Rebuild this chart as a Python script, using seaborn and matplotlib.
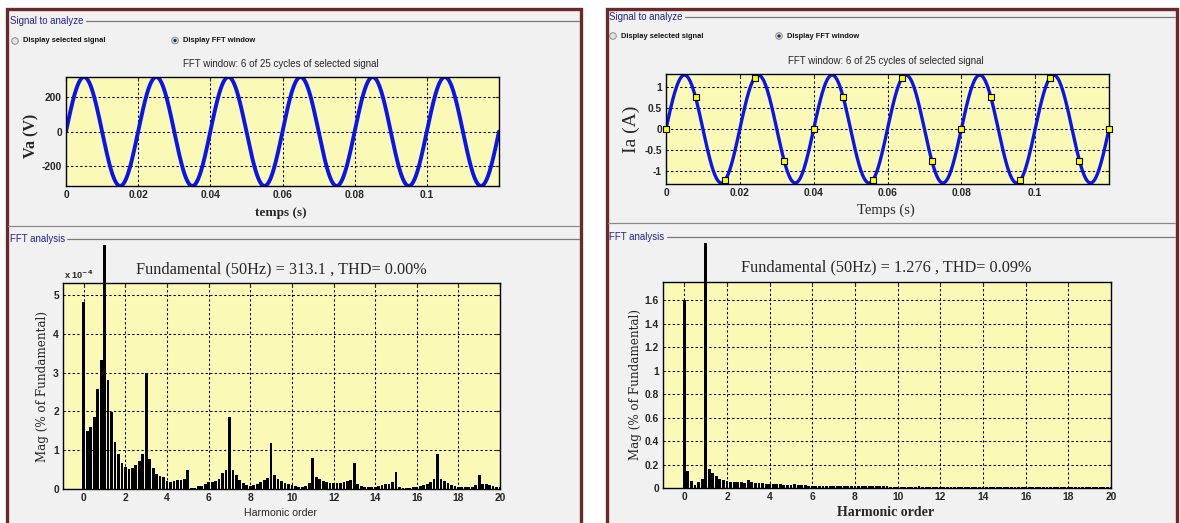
import numpy as np
import pandas as pd
import matplotlib
matplotlib.use("Agg")
import matplotlib.pyplot as plt
from matplotlib.patches import Rectangle, Circle
from matplotlib.transforms import Bbox, TransformedBbox
import seaborn as sns

# ---------------------------------------------------------------- data
# Measured phase signals (fundamental amplitude and frequency)
va_amplitude = 313.1      # V
ia_amplitude = 1.276      # A
f_fund = 50.0             # Hz
window_cycles = 6
total_cycles = 25

# Harmonic spectrum, bins every 1/6 harmonic from 0 to 20
# Voltage spectrum in units of 1e-4 % of fundamental (bin 6 = fundamental = 100 %)
va_spectrum = [
    4.81, 1.49, 1.61, 1.86, 2.57, 3.32, 1.0e6, 2.81, 1.99, 1.22, 0.89, 0.68,
    0.57, 0.51, 0.54, 0.62, 0.72, 0.89, 2.99, 0.77, 0.55, 0.38, 0.34, 0.30,
    0.20, 0.18, 0.20, 0.22, 0.24, 0.26, 0.48, 0.03, 0.03, 0.09, 0.07, 0.12,
    0.18, 0.18, 0.21, 0.27, 0.40, 0.50, 1.86, 0.49, 0.35, 0.22, 0.15, 0.10,
    0.09, 0.10, 0.13, 0.18, 0.23, 0.29, 1.18, 0.35, 0.27, 0.20, 0.15, 0.12,
    0.10, 0.08, 0.06, 0.05, 0.07, 0.15, 0.80, 0.30, 0.25, 0.20, 0.17, 0.16,
    0.16, 0.16, 0.16, 0.18, 0.20, 0.24, 0.67, 0.12, 0.08, 0.06, 0.06, 0.06,
    0.06, 0.07, 0.10, 0.12, 0.14, 0.18, 0.43, 0.06, 0.03, 0.02, 0.02, 0.04,
    0.05, 0.07, 0.10, 0.12, 0.18, 0.25, 0.90, 0.25, 0.20, 0.15, 0.10, 0.08,
    0.06, 0.05, 0.06, 0.06, 0.05, 0.10, 0.35, 0.14, 0.12, 0.10, 0.08, 0.06,
    0.06,
]
# Current spectrum in % of fundamental (bin 6 = fundamental = 100 %)
ia_spectrum = [
    1.600, 0.148, 0.057, 0.023, 0.048, 0.080, 100.0, 0.165, 0.125, 0.100, 0.080, 0.065,
    0.060, 0.055, 0.048, 0.048, 0.048, 0.045, 0.070, 0.050, 0.043, 0.040, 0.040, 0.037,
    0.033, 0.030, 0.030, 0.030, 0.028, 0.026, 0.028, 0.030, 0.027, 0.024, 0.022, 0.020,
    0.020, 0.019, 0.018, 0.018, 0.017, 0.017, 0.016, 0.016, 0.015, 0.015, 0.015, 0.014,
    0.015, 0.014, 0.014, 0.013, 0.013, 0.014, 0.015, 0.014, 0.013, 0.013, 0.012, 0.012,
    0.012, 0.010, 0.010, 0.011, 0.012, 0.012, 0.014, 0.012, 0.010, 0.008, 0.007, 0.007,
    0.006, 0.006, 0.006, 0.007, 0.007, 0.008, 0.010, 0.007, 0.006, 0.005, 0.005, 0.005,
    0.006, 0.006, 0.006, 0.006, 0.006, 0.006, 0.007, 0.005, 0.005, 0.005, 0.005, 0.005,
    0.005, 0.006, 0.006, 0.006, 0.006, 0.006, 0.007, 0.006, 0.005, 0.005, 0.005, 0.005,
    0.005, 0.005, 0.005, 0.005, 0.005, 0.005, 0.006, 0.005, 0.005, 0.005, 0.005, 0.005,
    0.005,
]
harmonic_order = np.arange(len(va_spectrum)) / window_cycles

time_ticks = [0, 0.02, 0.04, 0.06, 0.08, 0.1]
time_labels = ["0", "0.02", "0.04", "0.06", "0.08", "0.1"]
va_ticks = [-200, 0, 200]
ia_ticks = [-1, -0.5, 0, 0.5, 1]
ia_tick_labels = ["-1", "-0.5", "0", "0.5", "1"]
harm_ticks = list(range(0, 21, 2))
va_mag_ticks = [0, 1, 2, 3, 4, 5]
ia_mag_ticks = [0, 0.2, 0.4, 0.6, 0.8, 1.0, 1.2, 1.4, 1.6]
ia_mag_labels = ["0", "0.2", "0.4", "0.6", "0.8", "1", "1.2", "1.4", "1.6"]

va_thd = 0.00
ia_thd = 0.09

# waveforms over the FFT window
t_end = window_cycles / f_fund
t = np.linspace(0, t_end, 1200)
va = va_amplitude * np.sin(2 * np.pi * f_fund * t)
ia = ia_amplitude * np.sin(2 * np.pi * f_fund * t)
t_mark = np.arange(0, t_end + 1e-9, 0.008)
ia_mark = ia_amplitude * np.sin(2 * np.pi * f_fund * t_mark)

# ---------------------------------------------------------------- style
sns.set_style("white")
plt.rcParams["font.family"] = ["DejaVu Sans"]
plt.rcParams["axes.unicode_minus"] = False

W, H = 1180, 523
fig = plt.figure(figsize=(W / 100, H / 100), dpi=100, facecolor="white")

AX_BG = "#fbf9b6"
BLUE = "#0a14f0"
SERIF = "Liberation Serif"
SANS = "Liberation Sans"


def add_ax(x0, y0, x1, y1):
    return fig.add_axes([x0 / W, 1 - y1 / H, (x1 - x0) / W, (y1 - y0) / H])


# window frame / panel decoration in pixel coordinates
ov = fig.add_axes([0, 0, 1, 1], zorder=-1)
ov.set_xlim(0, W)
ov.set_ylim(H, 0)
ov.axis("off")

for px0, px1 in [(7, 581), (607, 1177)]:
    ov.add_patch(Rectangle((px0, 8.5), px1 - px0, 530, facecolor="#f1f1f1",
                           edgecolor="#6a2828", lw=2.4))

GROUP_BLUE = "#22228e"


def group_label(x, y, text, x_end_text, x_end):
    ov.text(x, y, text, color=GROUP_BLUE, fontsize=6.9, family=SANS,
            ha="left", va="center")
    ov.plot([x_end_text, x_end], [y, y], color="#7a7a7a", lw=0.9)


def radio(x, y, text, selected):
    ov.add_patch(Circle((x, y), 3.3, facecolor="#e4e4e4", edgecolor="#8a8a8a", lw=0.7))
    if selected:
        ov.add_patch(Circle((x, y), 1.7, facecolor="#203850", edgecolor="none"))
    ov.text(x + 8, y, text, fontsize=5.4, fontweight="bold", family=SANS,
            ha="left", va="center", color="#111111")


# left panel
group_label(10, 20.5, "Signal to analyze", 86, 579)
radio(15, 41, "Display selected signal", False)
radio(175, 40.5, "Display FFT window", True)
ov.plot([8, 579], [226, 226], color="#8a8a8a", lw=0.9)
group_label(10, 238.5, "FFT analysis", 67, 579)

# right panel
group_label(609, 17, "Signal to analyze", 685, 1175)
radio(613, 36, "Display selected signal", False)
radio(779, 36, "Display FFT window", True)
ov.plot([608, 1175], [223, 223], color="#8a8a8a", lw=0.9)
group_label(609, 236.5, "FFT analysis", 667, 1175)

window_title = f"FFT window: {window_cycles} of {total_cycles} cycles of selected signal"
ov.text(281, 64, window_title, fontsize=7.0, family=SANS, ha="center", va="center")
ov.text(886, 61.5, window_title, fontsize=7.0, family=SANS, ha="center", va="center")

ov.text(281, 269, f"Fundamental ({f_fund:.0f}Hz) = {va_amplitude:.1f} , THD= {va_thd:.2f}%",
        fontsize=11.7, family=SERIF, ha="center", va="center")
ov.text(886, 267, f"Fundamental ({f_fund:.0f}Hz) = {ia_amplitude:.3f} , THD= {ia_thd:.2f}%",
        fontsize=11.7, family=SERIF, ha="center", va="center")
ov.text(64, 275, r"x 10$^{\mathbf{-4}}$", fontsize=6.6, fontweight="bold", family=SANS,
        ha="left", va="center")


def style_axes(ax, xlabel_xy, ylabel_xy, box):
    x0, y0, x1, y1 = box
    ax.set_facecolor(AX_BG)
    for s in ax.spines.values():
        s.set_color("black")
        s.set_linewidth(1.0)
        s.set_visible(True)
    ax.grid(True, color="black", linestyle=(0, (2.2, 2.2)), linewidth=0.75)
    ax.set_axisbelow(True)
    ax.tick_params(direction="in", length=3, width=0.8, top=True, right=True,
                   labelsize=7.4, pad=3)
    for lab in ax.get_xticklabels() + ax.get_yticklabels():
        lab.set_fontweight("bold")
        lab.set_family(SANS)
    ax.xaxis.set_label_coords((xlabel_xy[0] - x0) / (x1 - x0), (y1 - xlabel_xy[1]) / (y1 - y0))
    ax.yaxis.set_label_coords((ylabel_xy[0] - x0) / (x1 - x0), (y1 - ylabel_xy[1]) / (y1 - y0))
    ax.xaxis.label.set_va("center")
    ax.yaxis.label.set_va("center")


# ---------------------------------------------------------------- top left: Va
box = (66, 77, 499, 186)
ax = add_ax(*box)
sns.lineplot(x=t, y=va, ax=ax, color=BLUE, linewidth=2.8)
ax.set_xlim(0, t_end)
ax.set_ylim(-va_amplitude, va_amplitude)
ax.set_xticks(time_ticks, time_labels)
ax.set_yticks(va_ticks)
ax.set_xlabel("temps (s)", fontsize=9.5, family=SERIF, fontweight="bold")
ax.set_ylabel("Va (V)", fontsize=11.5, family=SERIF, fontweight="bold")
style_axes(ax, (281, 213), (31, 136), box)

# ---------------------------------------------------------------- top right: Ia
box = (666, 74, 1109, 184)
ax = add_ax(*box)
sns.lineplot(x=t, y=ia, ax=ax, color=BLUE, linewidth=2.4)
sns.scatterplot(x=t_mark, y=ia_mark, ax=ax, marker="s", color="#ffff00",
                edgecolor="black", linewidth=0.8, s=24, zorder=4, clip_on=False)
ax.set_xlim(0, t_end)
ax.set_ylim(-1.3, 1.3)
ax.set_xticks(time_ticks, time_labels)
ax.set_yticks(ia_ticks, ia_tick_labels)
ax.set_xlabel("Temps (s)", fontsize=10.5, family=SERIF)
ax.set_ylabel("Ia (A)", fontsize=14, family=SERIF)
style_axes(ax, (886, 210), (631, 129), box)


# ---------------------------------------------------------------- spectra
def spectrum(ax, values, top_frac):
    df = pd.DataFrame({"h": harmonic_order, "mag": values})
    sns.barplot(data=df, x="h", y="mag", ax=ax, native_scale=True, color="black",
                saturation=1, width=0.8, errorbar=None, edgecolor="none")
    clip = TransformedBbox(Bbox([[0, 0], [1, top_frac]]), ax.transAxes)
    for p in ax.patches:
        p.set_clip_box(clip)
        p.set_zorder(3)
    ax.set_xlim(-1, 20)


box = (63, 283, 500, 489)
ax = add_ax(*box)
spectrum(ax, va_spectrum, 1.185)
ax.set_ylim(0, 5.31)
ax.set_xticks(harm_ticks)
ax.set_yticks(va_mag_ticks)
ax.set_xlabel("Harmonic order", fontsize=7.6, family=SANS)
ax.set_ylabel("Mag (% of Fundamental)", fontsize=8.6, family="DejaVu Serif")
style_axes(ax, (281, 513), (43, 386), box)

box = (663, 282, 1111, 488)
ax = add_ax(*box)
spectrum(ax, ia_spectrum, 1.19)
ax.set_ylim(0, 1.755)
ax.set_xticks(harm_ticks)
ax.set_yticks(ia_mag_ticks, ia_mag_labels)
ax.set_xlabel("Harmonic order", fontsize=10, family=SERIF, fontweight="bold")
ax.set_ylabel("Mag (% of Fundamental)", fontsize=8.6, family="DejaVu Serif")
style_axes(ax, (886, 513), (636, 385), box)

fig.savefig("out.png", dpi=100, facecolor="white")
